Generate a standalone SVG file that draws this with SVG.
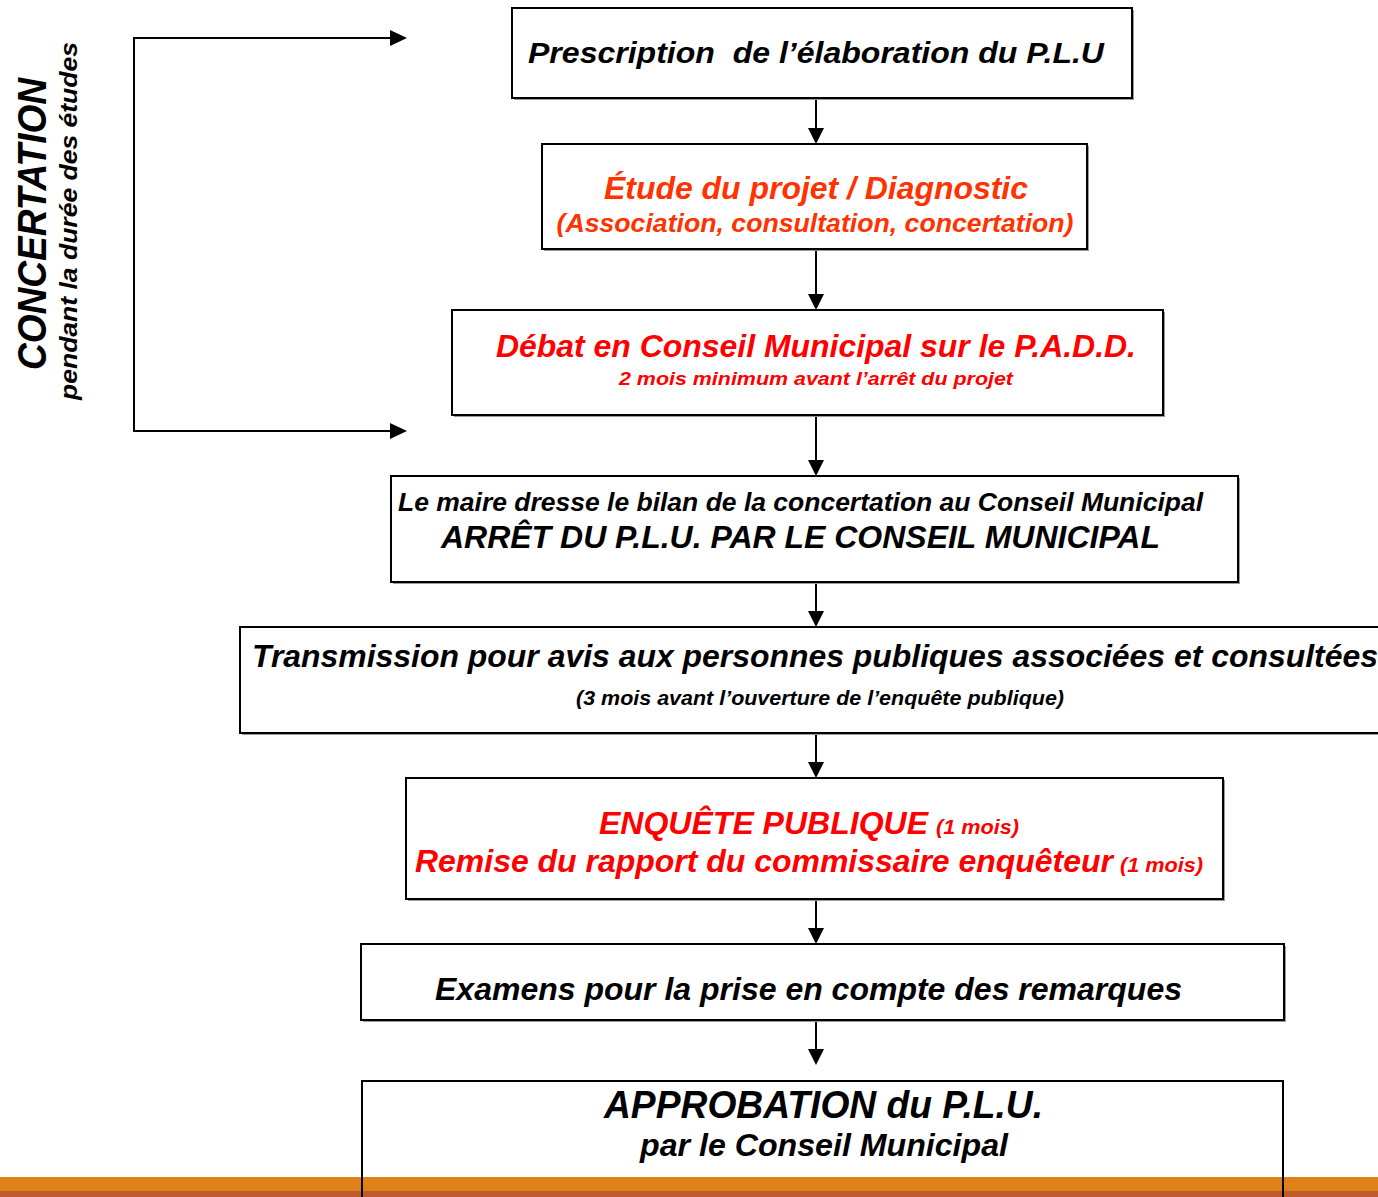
<svg xmlns="http://www.w3.org/2000/svg" width="1378" height="1197" viewBox="0 0 1378 1197">
  <defs>
    <style>
      .box { fill: #fff; stroke: #000; stroke-width: 2; }
      .sh { fill: #9a9a9a; }
      .t { font-family: "Liberation Sans", Arial, sans-serif; font-weight: bold; font-style: italic; }
      .c { text-anchor: middle; }
      .k { fill: #000; }
      .o { fill: #FF3300; }
      .r { fill: #FF0000; }
      .ln { stroke: #000; stroke-width: 2; fill: none; }
      .arr { stroke: #000; stroke-width: 2; fill: none; }
      .hd { fill: #000; }
    </style>
  </defs>
  <rect width="1378" height="1197" fill="#fff"/>

  <g id="concertation">
    <text class="t k c" transform="translate(46,224) rotate(-90)" font-size="40" textLength="292" lengthAdjust="spacingAndGlyphs">CONCERTATION</text>
    <text class="t k c" transform="translate(77,221) rotate(-90)" font-size="24" textLength="358" lengthAdjust="spacingAndGlyphs">pendant la durée des études</text>
  </g>

  <g id="connectors">
    <path class="ln" d="M395,38 H134 V431 H395"/>
    <path class="hd" d="M390,30 L407,38 L390,46 Z"/>
    <path class="hd" d="M390,423 L407,431 L390,439 Z"/>
    <path class="arr" d="M816,98 V130"/><path class="hd" d="M808,128 L816,144 L824,128 Z"/>
    <path class="arr" d="M816,249 V296"/><path class="hd" d="M808,294 L816,310 L824,294 Z"/>
    <path class="arr" d="M816,415 V462"/><path class="hd" d="M808,460 L816,476 L824,460 Z"/>
    <path class="arr" d="M816,582 V613"/><path class="hd" d="M808,611 L816,627 L824,611 Z"/>
    <path class="arr" d="M816,733 V764"/><path class="hd" d="M808,762 L816,778 L824,762 Z"/>
    <path class="arr" d="M816,899 V930"/><path class="hd" d="M808,928 L816,944 L824,928 Z"/>
    <path class="arr" d="M816,1020 V1051"/><path class="hd" d="M808,1049 L816,1065 L824,1049 Z"/>
  </g>

  <g id="n1">
    <rect class="sh" x="514" y="10" width="620" height="90"/>
    <rect class="box" x="512" y="8" width="620" height="90"/>
    <text class="t k" x="528" y="63" font-size="30" textLength="576" lengthAdjust="spacingAndGlyphs" xml:space="preserve">Prescription  de l’élaboration du P.L.U</text>
  </g>

  <g id="n2">
    <rect class="sh" x="544" y="146" width="545" height="105"/>
    <rect class="box" x="542" y="144" width="545" height="105"/>
    <text class="t o c" x="816" y="199" font-size="31" textLength="424" lengthAdjust="spacingAndGlyphs">Étude du projet / Diagnostic</text>
    <text class="t o c" x="815" y="232" font-size="25" textLength="517" lengthAdjust="spacingAndGlyphs">(Association, consultation, concertation)</text>
  </g>

  <g id="n3">
    <rect class="sh" x="454" y="312" width="711" height="105"/>
    <rect class="box" x="452" y="310" width="711" height="105"/>
    <text class="t r c" x="816" y="357" font-size="31" textLength="640" lengthAdjust="spacingAndGlyphs">Débat en Conseil Municipal sur le P.A.D.D.</text>
    <text class="t r c" x="816" y="385" font-size="19" textLength="394" lengthAdjust="spacingAndGlyphs">2 mois minimum avant l’arrêt du projet</text>
  </g>

  <g id="n4">
    <rect class="sh" x="393" y="478" width="847" height="106"/>
    <rect class="box" x="391" y="476" width="847" height="106"/>
    <text class="t k" x="398" y="511" font-size="25" textLength="805" lengthAdjust="spacingAndGlyphs">Le maire dresse le bilan de la concertation au Conseil Municipal</text>
    <text class="t k" x="441" y="548" font-size="31" textLength="719" lengthAdjust="spacingAndGlyphs">ARRÊT DU P.L.U. PAR LE CONSEIL MUNICIPAL</text>
  </g>

  <g id="n5">
    <rect class="sh" x="242" y="629" width="1150" height="106"/>
    <rect class="box" x="240" y="627" width="1150" height="106"/>
    <text class="t k" x="252" y="667" font-size="31" textLength="1126" lengthAdjust="spacingAndGlyphs">Transmission pour avis aux personnes publiques associées et consultées</text>
    <text class="t k c" x="820" y="705" font-size="20" textLength="488" lengthAdjust="spacingAndGlyphs">(3 mois avant l’ouverture de l’enquête publique)</text>
  </g>

  <g id="n6">
    <rect class="sh" x="408" y="780" width="817" height="121"/>
    <rect class="box" x="406" y="778" width="817" height="121"/>
    <text class="t r" x="599" y="834" font-size="32" textLength="329" lengthAdjust="spacingAndGlyphs">ENQUÊTE PUBLIQUE</text>
    <text class="t r" x="936" y="834" font-size="20" textLength="83" lengthAdjust="spacingAndGlyphs">(1 mois)</text>
    <text class="t r" x="415" y="872" font-size="32" textLength="698" lengthAdjust="spacingAndGlyphs">Remise du rapport du commissaire enquêteur</text>
    <text class="t r" x="1120" y="872" font-size="20" textLength="83" lengthAdjust="spacingAndGlyphs">(1 mois)</text>
  </g>

  <g id="n7">
    <rect class="sh" x="363" y="946" width="923" height="76"/>
    <rect class="box" x="361" y="944" width="923" height="76"/>
    <text class="t k" x="435" y="1000" font-size="32" textLength="747" lengthAdjust="spacingAndGlyphs">Examens pour la prise en compte des remarques</text>
  </g>

  <g id="n8">
    <rect x="361" y="1081" width="923" height="100" fill="#fff"/>
    <text class="t k" x="604" y="1118" font-size="39" textLength="439" lengthAdjust="spacingAndGlyphs">APPROBATION du P.L.U.</text>
    <text class="t k" x="640" y="1156" font-size="32" textLength="368" lengthAdjust="spacingAndGlyphs">par le Conseil Municipal</text>
  </g>

  <g id="footer">
    <rect x="0" y="1177" width="1378" height="14" fill="#E08018"/>
    <rect x="0" y="1191" width="1378" height="6" fill="#BF5A2B"/>
  </g>
  <path class="ln" d="M362,1197 V1081 H1283 V1197"/>
</svg>
